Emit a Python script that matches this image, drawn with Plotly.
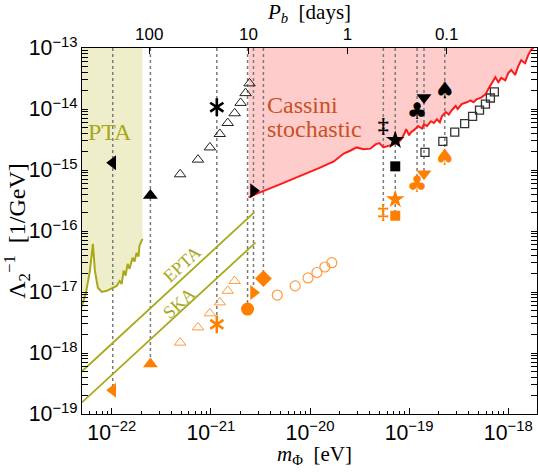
import math
import plotly.graph_objects as go

# ---------------- data (log10 values: x = log10(m/eV), y = log10(Lambda^-1 / GeV^-1)) -------------
pta_logm = [-22.40, -22.30, -22.26, -22.22, -22.19, -22.17, -22.14, -22.10, -22.05, -21.99, -21.95,
            -21.92, -21.90, -21.88, -21.86, -21.84, -21.82, -21.79, -21.77, -21.75, -21.73, -21.72, -21.69]
pta_logy = [-17.38, -17.23, -17.01, -16.65, -16.21, -16.65, -16.93, -17.00, -16.98, -16.93, -16.90,
            -16.82, -16.87, -16.65, -16.73, -16.54, -16.62, -16.44, -16.50, -16.36, -16.42, -16.24, -16.13]

cassini_logm = [-20.62, -20.51, -20.31, -20.11, -19.91, -19.76, -19.66, -19.59, -19.53, -19.46, -19.39,
                -19.34, -19.30, -19.26, -19.21, -19.16, -19.11, -19.08, -19.05, -19.03, -19.00, -18.98,
                -18.94, -18.91, -18.87, -18.85, -18.82, -18.78, -18.75, -18.72, -18.69, -18.67, -18.63,
                -18.60, -18.57, -18.53, -18.51, -18.47, -18.42, -18.38, -18.35, -18.32, -18.27, -18.23,
                -18.20, -18.17, -18.13, -18.10, -18.07, -18.03, -18.00, -17.97, -17.93, -17.90, -17.87,
                -17.83, -17.80, -17.77, -17.73]
cassini_logy = [-15.45, -15.37, -15.24, -15.11, -14.97, -14.86, -14.73, -14.68, -14.63, -14.66, -14.65,
                -14.58, -14.56, -14.63, -14.61, -14.58, -14.55, -14.50, -14.41, -14.33, -14.43, -14.38,
                -14.33, -14.28, -14.32, -14.25, -14.28, -14.20, -14.23, -14.17, -14.22, -14.12, -14.05,
                -14.09, -14.02, -13.95, -14.00, -13.92, -13.89, -13.86, -13.89, -13.84, -13.81, -13.76,
                -13.67, -13.58, -13.48, -13.56, -13.49, -13.53, -13.41, -13.36, -13.44, -13.30, -13.20,
                -13.25, -13.12, -13.03, -12.97]

epta_logm = [-22.30, -20.56]
epta_logy = [-18.30, -15.69]
ska_logm = [-22.30, -20.55]
ska_logy = [-18.81, -16.19]

# filled markers: black (current bound) and orange (future)
bk_sym = ["triangle-left", "triangle-up", "asterisk6", "triangle-right", "star", "square", "triangle-down"]
bk_logm = [-21.99, -21.61, -20.94, -20.57, -19.14, -19.14, -18.85]
bk_logy = [-14.88, -15.42, -13.97, -15.34, -14.51, -14.94, -13.81]

or_sym = ["triangle-left", "triangle-up", "asterisk6", "circle", "triangle-right", "diamond",
          "star", "square", "triangle-down"]
or_logm = [-21.99, -21.61, -20.94, -20.63, -20.57, -20.47, -19.14, -19.14, -18.85]
or_logy = [-18.61, -18.18, -17.53, -17.28, -17.01, -16.78, -15.48, -15.75, -15.06]

# glyph markers
dagger_sym = ["‡"]
dagger_logm = [-19.26]
dagger_bk_logy = [-14.30]
dagger_or_logy = [-15.72]
suit_sym = ["♣", "♠"]
suit_logm = [-18.92, -18.64]
suit_bk_logy = [-14.07, -13.73]
suit_or_logy = [-15.27, -14.83]

# open markers
tri_logm = [-21.31, -21.13, -21.01, -20.91, -20.83, -20.76, -20.70, -20.65, -20.61]
tri_bk_logy = [-15.07, -14.83, -14.63, -14.41, -14.23, -14.07, -13.90, -13.74, -13.58]
tri_or_logy = [-17.83, -17.58, -17.35, -17.17, -16.98, -16.82]

sq_logm = [-18.84, -18.66, -18.54, -18.44, -18.36, -18.29, -18.23, -18.18, -18.14]
sq_logy = [-14.71, -14.53, -14.38, -14.24, -14.12, -14.02, -13.92, -13.82, -13.72]

circ_logm = [-20.33, -20.15, -20.02, -19.93, -19.85, -19.78]
circ_logy = [-17.05, -16.90, -16.77, -16.68, -16.59, -16.52]

period_days = [100, 10, 1, 0.1]
period_labels = ["100", "10", "1", "0.1"]

# ---------------- helpers ----------------
P = lambda v: [10 ** t for t in v]
XR = [-22.30, -17.71]
YR = [-19.0, -13.0]
TOP = 10 ** -12.9

OLIVE = "#A8A818"
OLIVE_FILL = "#EEEECB"
RED = "#FF1A1A"
PINK = "#FFCCCC"
ORANGE = "#FF8000"
ORANGE_LIGHT = "#FF9A40"
CASSINI_TXT = "#C8501E"

fig = go.Figure()

# PTA shaded region
fig.add_trace(go.Scatter(x=P(pta_logm) + [10 ** pta_logm[-1], 10 ** pta_logm[0]],
                         y=P(pta_logy) + [TOP, TOP], fill="toself", fillcolor=OLIVE_FILL,
                         line=dict(width=0), mode="lines", hoverinfo="skip", showlegend=False))
# Cassini shaded region
fig.add_trace(go.Scatter(x=P(cassini_logm) + [10 ** -17.6, 10 ** -17.6, 10 ** cassini_logm[0]],
                         y=P(cassini_logy) + [10 ** cassini_logy[-1], TOP, TOP], fill="toself",
                         fillcolor=PINK, line=dict(width=0), mode="lines", hoverinfo="skip",
                         showlegend=False))

# vertical dotted lines (from top down to the orange marker of each system)
all_m = or_logm + dagger_logm + suit_logm
all_y = or_logy + dagger_or_logy + suit_or_logy
lx, ly = [], []
for m in sorted(set(all_m)):
    ybot = min(y for mm, y in zip(all_m, all_y) if mm == m)
    lx += [10 ** m, 10 ** m, None]
    ly += [10 ** -13, 10 ** ybot, None]
fig.add_trace(go.Scatter(x=lx, y=ly, mode="lines", line=dict(color="#7A7A7A", width=1.5, dash="dot"),
                         hoverinfo="skip", showlegend=False))

# curves
fig.add_trace(go.Scatter(x=P(pta_logm), y=P(pta_logy), mode="lines", line=dict(color=OLIVE, width=2),
                         showlegend=False))
fig.add_trace(go.Scatter(x=P(cassini_logm), y=P(cassini_logy), mode="lines",
                         line=dict(color=RED, width=2), showlegend=False))
for xs, ys in [(epta_logm, epta_logy), (ska_logm, ska_logy)]:
    fig.add_trace(go.Scatter(x=P(xs), y=P(ys), mode="lines", line=dict(color=OLIVE, width=1.8),
                             showlegend=False))

# open markers
fig.add_trace(go.Scatter(x=P(tri_logm), y=P(tri_bk_logy), mode="markers",
                         marker=dict(symbol="triangle-up-open", size=10, color="#222222", line=dict(width=1)),
                         showlegend=False))
fig.add_trace(go.Scatter(x=P(tri_logm[:len(tri_or_logy)]), y=P(tri_or_logy), mode="markers",
                         marker=dict(symbol="triangle-up-open", size=10, color=ORANGE_LIGHT, line=dict(width=1)),
                         showlegend=False))
fig.add_trace(go.Scatter(x=P(sq_logm), y=P(sq_logy), mode="markers",
                         marker=dict(symbol="square-open", size=8, color="#333333", line=dict(width=1.3)),
                         showlegend=False))
fig.add_trace(go.Scatter(x=P(circ_logm), y=P(circ_logy), mode="markers",
                         marker=dict(symbol="circle-open", size=10, color=ORANGE_LIGHT, line=dict(width=1.2)),
                         showlegend=False))

SIZES = {"triangle-left": 13, "triangle-up": 13, "triangle-right": 13, "triangle-down": 13,
         "star": 14, "square": 10, "circle": 13, "diamond": 13}


def add_filled(syms, xs, ys, color):
    for s, x, y in zip(syms, xs, ys):
        if s == "asterisk6":
            for sub in ["y-up-open", "y-down-open"]:
                fig.add_trace(go.Scatter(x=[10 ** x], y=[10 ** y], mode="markers",
                                         marker=dict(symbol=sub, size=11, color=color,
                                                     line=dict(width=2.6, color=color)),
                                         showlegend=False))
        else:
            fig.add_trace(go.Scatter(x=[10 ** x], y=[10 ** y], mode="markers",
                                     marker=dict(symbol=s, size=SIZES[s], color=color, line=dict(width=0)),
                                     showlegend=False))


add_filled(bk_sym, bk_logm, bk_logy, "black")
add_filled(or_sym, or_logm, or_logy, ORANGE)

for ys, color in [(dagger_bk_logy, "black"), (dagger_or_logy, ORANGE)]:
    fig.add_trace(go.Scatter(x=P(dagger_logm), y=P(ys), mode="text", text=dagger_sym,
                             textposition="middle center",
                             textfont=dict(family="Liberation Serif", size=22, color=color, weight="bold"),
                             showlegend=False))
for ys, color in [(suit_bk_logy, "black"), (suit_or_logy, ORANGE)]:
    fig.add_trace(go.Scatter(x=P(suit_logm), y=P(ys), mode="text", text=suit_sym,
                             textposition="middle center",
                             textfont=dict(family="DejaVu Sans", size=23, color=color),
                             showlegend=False))

# dummy trace for the top axis
fig.add_trace(go.Scatter(x=[], y=[], xaxis="x2", yaxis="y", showlegend=False))

# ---------------- layout ----------------
hbar_eVs = 6.582e-16
top_ticks = [math.pi * hbar_eVs / (p * 86400.0) for p in period_days]

tickfont = dict(family="Liberation Sans, Arial", size=17, color="black")
titlefont = dict(family="Liberation Serif, Times New Roman", size=21, color="black")

fig.update_layout(
    width=538, height=474, margin=dict(l=82, r=1, t=48, b=60),
    paper_bgcolor="white", plot_bgcolor="white",
    xaxis=dict(type="log", range=XR, showline=True, linecolor="black", linewidth=1, mirror=False,
               ticks="inside", ticklen=6, tickcolor="black", dtick=1, exponentformat="power",
               showexponent="all", tickfont=tickfont, showgrid=False, zeroline=False,
               minor=dict(ticks="inside", ticklen=3, tickcolor="black", showgrid=False)),
    xaxis2=dict(type="log", range=XR, overlaying="x", side="top", showline=True, linecolor="black",
                linewidth=1, ticks="inside", ticklen=6, tickcolor="black", tickvals=top_ticks,
                ticktext=period_labels, tickfont=tickfont, showgrid=False, zeroline=False,
                title=dict(text="<i>P<sub>b</sub></i>  [days]", font=titlefont, standoff=4)),
    yaxis=dict(type="log", range=YR, showline=True, linecolor="black", linewidth=1, mirror="allticks",
               ticks="inside", ticklen=6, tickcolor="black", dtick=1, exponentformat="power",
               showexponent="all", tickfont=tickfont, showgrid=False, zeroline=False,
               minor=dict(ticks="inside", ticklen=3, tickcolor="black", showgrid=False),
               title=dict(text="Λ<sub>2</sub><sup>−1</sup>  [1/GeV]",
                          font=dict(family="Liberation Serif, Times New Roman", size=24, color="black"),
                          standoff=4)),
)

ann_font = lambda size, color: dict(family="Liberation Serif, Times New Roman", size=size, color=color)
# x-axis title placed as annotation (closer to tick labels)
fig.add_annotation(xref="paper", yref="paper", x=0.51, y=-0.112, yanchor="middle",
                   text="<i>m</i><sub>Φ</sub>  [eV]", showarrow=False, font=titlefont)
fig.add_annotation(x=-22.02, y=-14.38, text="PTA", showarrow=False, font=ann_font(24, OLIVE))
fig.add_annotation(x=-20.45, y=-13.94, text="Cassini", showarrow=False, xanchor="left",
                   font=ann_font(24, CASSINI_TXT))
fig.add_annotation(x=-20.45, y=-14.32, text="stochastic", showarrow=False, xanchor="left",
                   font=ann_font(24, CASSINI_TXT))
fig.add_annotation(x=-21.29, y=-16.54, text="EPTA", showarrow=False, textangle=-42.5,
                   font=ann_font(18, OLIVE))
fig.add_annotation(x=-21.32, y=-17.18, text="SKA", showarrow=False, textangle=-42.5,
                   font=ann_font(18, OLIVE))

fig.write_html("out.html")
